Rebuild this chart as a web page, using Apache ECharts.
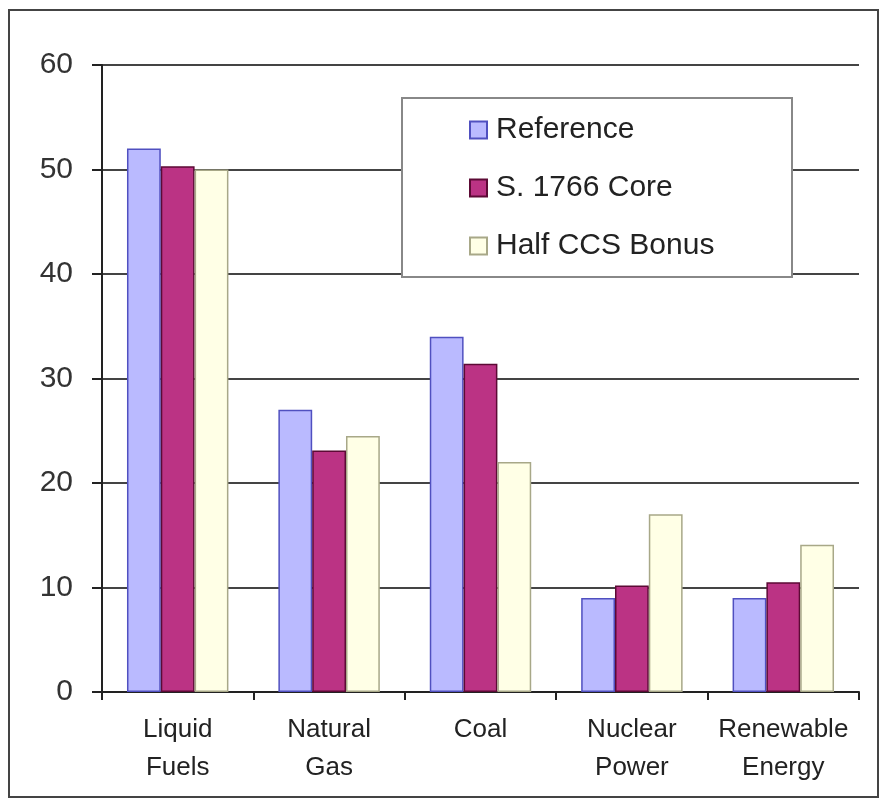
<!DOCTYPE html>
<html>
<head>
<meta charset="utf-8">
<script src="https://cdn.jsdelivr.net/npm/echarts@6/dist/echarts.min.js"></script>
<style>
  html, body { margin: 0; padding: 0; background: #fff; }
  #chart { width: 882px; height: 805px; }
</style>
</head>
<body>
<div id="chart"></div>
<script>
// data
var categories = ['Liquid\nFuels', 'Natural\nGas', 'Coal', 'Nuclear\nPower', 'Renewable\nEnergy'];
var referenceVals = [52, 27, 34, 9, 9];
var coreVals = [50.3, 23.1, 31.4, 10.2, 10.5];
var halfCcsVals = [50, 24.5, 22, 17, 14.1];
var yTicks = [0, 10, 20, 30, 40, 50, 60];

var myChart = echarts.init(document.getElementById('chart'));

var font = 'Liberation Sans, Arial, sans-serif';

option = {
    animation: false,
    backgroundColor: '#fff',
    grid: {
        left: 102,
        right: 23,
        top: 65,
        bottom: 113
    },
    graphic: [
        {   // outer frame
            type: 'rect',
            shape: { x: 9, y: 10, width: 869, height: 787 },
            style: { fill: 'none', stroke: '#444', lineWidth: 2 },
            z: 0
        },
        {   // legend box
            type: 'rect',
            shape: { x: 402, y: 98, width: 390, height: 179 },
            style: { fill: '#fff', stroke: '#888', lineWidth: 2 },
            z: 10
        }
    ],
    legend: {
        orient: 'vertical',
        left: 464,
        top: 109,
        z: 20,
        itemWidth: 17,
        itemHeight: 17,
        itemGap: 26,
        icon: 'rect',
        textStyle: {
            fontFamily: font,
            fontSize: 30,
            color: '#222',
            lineHeight: 32,
            padding: [0, 0, 0, 4]
        },
        data: ['Reference', 'S. 1766 Core', 'Half CCS Bonus']
    },
    xAxis: {
        type: 'category',
        data: categories,
        axisLine: { lineStyle: { color: '#222', width: 2 } },
        axisTick: { show: true, length: 8, lineStyle: { color: '#222', width: 2 } },
        axisLabel: {
            interval: 0,
            margin: 19,
            fontFamily: font,
            fontSize: 26,
            lineHeight: 38,
            color: '#222'
        }
    },
    yAxis: {
        type: 'value',
        min: 0,
        max: 60,
        interval: 10,
        axisLine: { show: true, lineStyle: { color: '#222', width: 2 } },
        axisTick: { show: true, inside: false, length: 10, lineStyle: { color: '#222', width: 2 } },
        axisLabel: {
            margin: 29,
            fontFamily: font,
            fontSize: 30,
            color: '#333',
            formatter: function (v) { return yTicks.indexOf(v) >= 0 ? v : ''; }
        },
        splitLine: { show: true, lineStyle: { color: '#444', width: 2 } }
    },
    series: [
        {
            name: 'Reference',
            type: 'bar',
            barGap: '0%',
            barCategoryGap: '33%',
            itemStyle: { color: '#babaff', borderColor: '#5050c0', borderWidth: 1.5 },
            data: referenceVals
        },
        {
            name: 'S. 1766 Core',
            type: 'bar',
            itemStyle: { color: '#bb3384', borderColor: '#5c0a35', borderWidth: 1.5 },
            data: coreVals
        },
        {
            name: 'Half CCS Bonus',
            type: 'bar',
            itemStyle: { color: '#ffffe6', borderColor: '#a8a888', borderWidth: 1.5 },
            data: halfCcsVals
        }
    ]
};

myChart.setOption(option);
</script>
</body>
</html>
